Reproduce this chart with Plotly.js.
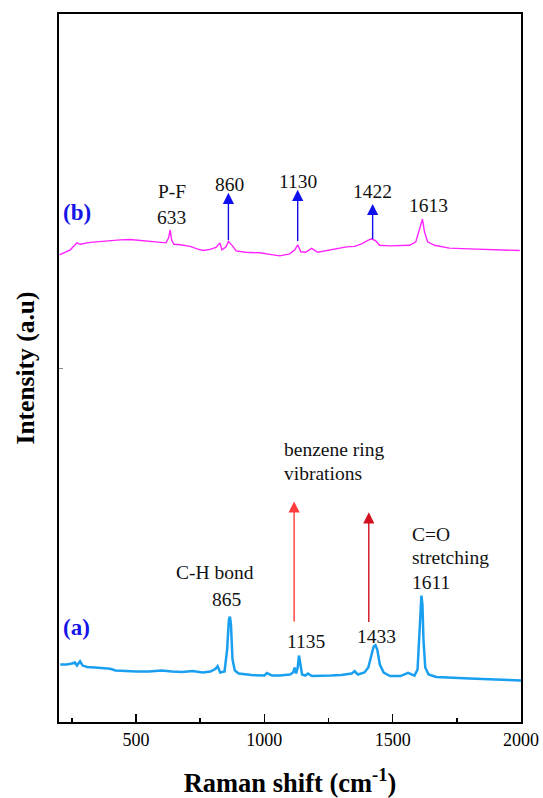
<!DOCTYPE html>
<html>
<head>
<meta charset="utf-8">
<script src="https://cdn.plot.ly/plotly-3.0.1.min.js"></script>
<style>html,body{margin:0;padding:0;background:#fff}#chart{width:543px;height:798px}</style>
</head>
<body>
<div id="chart"></div>
<script>
// Spectrum (a) - blue
const shiftA = [205,230,250,262,270,282,292,310,340,370,400,420,450,500,550,600,640,680,720,760,790,810,818,828,845,855,862,866,870,876,885,900,950,1000,1010,1030,1060,1090,1100,1112,1118,1124,1130,1135,1140,1147,1160,1170,1185,1220,1260,1300,1340,1352,1365,1390,1405,1418,1426,1433,1440,1450,1465,1490,1530,1560,1570,1585,1597,1603,1608,1612,1616,1620,1627,1640,1670,1700,1800,1900,2000];
const intA  = [8.12,8.12,8.26,8.40,7.97,8.58,7.97,7.76,7.69,7.62,7.51,7.27,7.20,7.13,7.13,7.27,7.13,7.06,7.20,6.99,7.13,7.51,7.88,6.99,7.13,10.23,14.47,14.89,13.76,8.82,7.27,6.85,6.63,6.56,6.92,6.56,6.56,6.63,6.70,6.99,7.69,6.85,7.69,9.39,8.12,6.70,6.56,6.85,6.49,6.49,6.56,6.63,6.85,7.17,6.70,6.99,7.69,9.53,10.66,10.84,10.23,8.12,6.99,6.49,6.49,6.94,6.77,6.56,7.41,11.64,17.01,17.85,16.58,11.64,7.69,6.70,6.35,6.28,6.14,6.00,5.86];

// Spectrum (b) - magenta
const shiftB = [202,244,270,283,322,400,438,477,516,555,594,617,627,633,639,648,672,711,738,761,788,812,827,835,851,860,876,890,925,983,1022,1060,1099,1119,1130,1142,1161,1184,1208,1255,1294,1320,1352,1379,1403,1418,1434,1449,1488,1527,1566,1590,1605,1616,1624,1636,1663,1721,1799,1877,1995];
const intB  = [65.98,66.69,67.68,67.47,67.75,68.00,68.10,68.14,68.03,67.92,67.78,67.68,68.38,69.51,68.03,67.47,67.40,67.18,66.83,66.59,66.76,67.04,67.68,66.69,67.11,67.86,67.25,66.55,66.34,66.27,66.05,65.84,66.12,66.69,67.40,66.41,66.34,66.90,66.34,66.69,66.90,67.11,67.18,67.54,68.03,68.24,67.96,67.33,67.25,67.25,67.33,67.82,69.51,71.02,69.23,67.82,67.33,66.93,66.83,66.76,66.59];

// Arrows: [x, tailY, headY]
const blueArrows = [[860,67.82,74.74],[1130,67.72,75.16],[1422,68.00,73.18]];
const redArrows  = [[1116,14.0,31.16,'#ff3b3b'],[1407,13.9,29.61,'#d0101e']];

// Labels: [text, x, y, xanchor]
const labelsB = [['P-F',639,74.92,'center'],['633',637,71.21,'center'],['860',866,75.86,'center'],['1130',1131,76.33,'center'],['1422',1422,74.92,'center'],['1613',1640,72.90,'center']];
const labelsA = [['C-H bond',808,21.14,'center'],['865',853,17.29,'center'],['1135',1161,11.40,'center'],['1433',1437,12.11,'center'],['benzene ring',1067,38.46,'left'],['vibrations',1067,35.17,'left'],['C=O',1566,26.46,'left'],['stretching',1566,23.22,'left'],['1611',1566,19.69,'left']];
const panelLabels = [['(b)',270,71.91],['(a)',270,13.34]];

const FONT = 'Liberation Serif, Times New Roman, serif';

const traces = [
  {x: shiftA, y: intA, mode: 'lines', line: {color: '#1a9ff0', width: 2.5}, hoverinfo: 'skip'},
  {x: shiftB, y: intB, mode: 'lines', line: {color: '#ff22ff', width: 1.4}, hoverinfo: 'skip'}
];

const ann = [];
blueArrows.forEach(a => ann.push({x: a[0], y: a[2], ax: a[0], ay: a[1], xref: 'x', yref: 'y', axref: 'x', ayref: 'y', text: '', showarrow: true, arrowhead: 2, arrowsize: 1.6, arrowwidth: 1.4, arrowcolor: '#1010ee', standoff: 0, startstandoff: 0}));
redArrows.forEach(a => ann.push({x: a[0], y: a[2], ax: a[0], ay: a[1], xref: 'x', yref: 'y', axref: 'x', ayref: 'y', text: '', showarrow: true, arrowhead: 2, arrowsize: 1.6, arrowwidth: 1.4, arrowcolor: a[3], standoff: 0, startstandoff: 0}));
labelsB.concat(labelsA).forEach(l => ann.push({x: l[1], y: l[2], xref: 'x', yref: 'y', text: l[0], showarrow: false, xanchor: l[3], yanchor: 'middle', font: {family: FONT, size: 19.5, color: '#111'}}));
panelLabels.forEach(l => ann.push({x: l[1], y: l[2], xref: 'x', yref: 'y', text: '<b>' + l[0] + '</b>', showarrow: false, xanchor: 'center', yanchor: 'middle', font: {family: FONT, size: 23, color: '#1515e8'}}));

const layout = {
  width: 543, height: 798,
  margin: {l: 59, r: 22, t: 14, b: 76},
  paper_bgcolor: '#fff', plot_bgcolor: '#fff',
  showlegend: false,
  font: {family: FONT, color: '#000'},
  xaxis: {
    range: [200, 2000], tickvals: [500, 1000, 1500, 2000], ticktext: ['500','1000','1500','2000'],
    ticks: 'inside', ticklen: 8, tickwidth: 1.5, tickcolor: '#000',
    minor: {tickvals: [250, 750, 1250, 1750], ticks: 'inside', ticklen: 4, tickwidth: 1.5, tickcolor: '#000'},
    showline: true, linewidth: 2, linecolor: '#000', mirror: true,
    showgrid: false, zeroline: false,
    tickfont: {family: FONT, size: 18, color: '#000'},
    title: {text: '<b>Raman shift (cm<sup>-1</sup>)</b>', font: {family: FONT, size: 26.5, color: '#000'}, standoff: 29}
  },
  yaxis: {
    range: [0, 100], tickvals: [50], ticks: 'inside', ticklen: 4, tickwidth: 1, tickcolor: '#888',
    showticklabels: false,
    showline: true, linewidth: 2, linecolor: '#000', mirror: true,
    showgrid: false, zeroline: false,
    title: {text: '<b>Intensity (a.u)</b>', font: {family: FONT, size: 25.5, color: '#000'}, standoff: 15}
  },
  annotations: ann
};

Plotly.newPlot('chart', traces, layout, {staticPlot: true, displayModeBar: false});
</script>
</body>
</html>
